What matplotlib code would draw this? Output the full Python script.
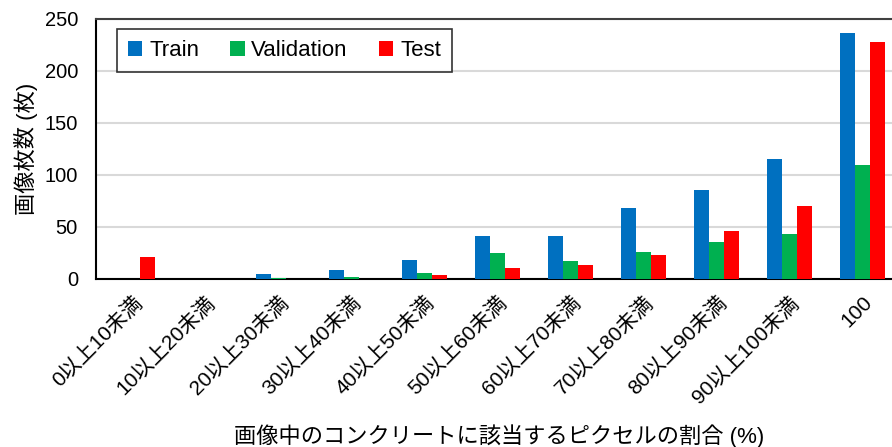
import matplotlib
matplotlib.use("Agg")
import matplotlib.pyplot as plt
import numpy as np

plt.rcParams['font.family'] = ['Liberation Sans', 'Noto Sans CJK JP']

categories = ["0以上10未満", "10以上20未満", "20以上30未満", "30以上40未満", "40以上50未満",
              "50以上60未満", "60以上70未満", "70以上80未満", "80以上90未満", "90以上100未満", "100"]
train = [0, 0, 5, 9, 18, 41, 41, 68, 86, 115, 237]
validation = [0, 0, 1, 2, 6, 25, 17, 26, 36, 43, 110]
test = [21, 0, 0, 0, 4, 11, 13, 23, 46, 70, 228]
series_names = ["Train", "Validation", "Test"]
colors = ["#0070C0", "#00B050", "#FF0000"]
yticks = [0, 50, 100, 150, 200, 250]

fig = plt.figure(figsize=(8.92, 4.47), dpi=100)
ax = fig.add_axes([96/892, 168/447, 803/892, 260/447])

x = np.arange(len(categories))
w = 0.206
for i, (vals, name, c) in enumerate(zip([train, validation, test], series_names, colors)):
    ax.bar(x + (i - 1) * w, vals, width=w, color=c, label=name, zorder=3)

ax.set_xlim(-0.5, len(categories) - 0.5)
ax.set_ylim(0, 250)
ax.set_yticks(yticks)
ax.yaxis.grid(True, color="#D9D9D9", linewidth=1.5, zorder=0)
ax.set_axisbelow(True)
ax.tick_params(axis='both', length=0)
ax.tick_params(axis='y', pad=13, labelsize=14.5)
ax.set_xticks(x)
ax.set_xticklabels(categories, rotation=45, ha='right', rotation_mode='anchor', fontsize=15)
ax.tick_params(axis='x', pad=10)

for s in ['left', 'bottom']:
    ax.spines[s].set_color('black')
    ax.spines[s].set_linewidth(1.5)
ax.spines['top'].set_color('#404040')
ax.spines['top'].set_linewidth(1.5)
ax.spines['right'].set_visible(False)

ax.set_ylabel("画像枚数 (枚)", fontsize=16, labelpad=5)
fig.text(499/892, 1 - 436/447, "画像中のコンクリートに該当するピクセルの割合 (%)", fontsize=16,
         ha='center', va='center')

leg = ax.legend(loc='upper left', bbox_to_anchor=(0.026, 0.9615), borderaxespad=0, ncol=3,
                fancybox=False, edgecolor='black', fontsize=16, handlelength=0.65,
                handleheight=0.65, handletextpad=0.3, columnspacing=1.4, borderpad=0.5)
leg.get_frame().set_linewidth(1.2)

fig.savefig("out.png", dpi=100)
